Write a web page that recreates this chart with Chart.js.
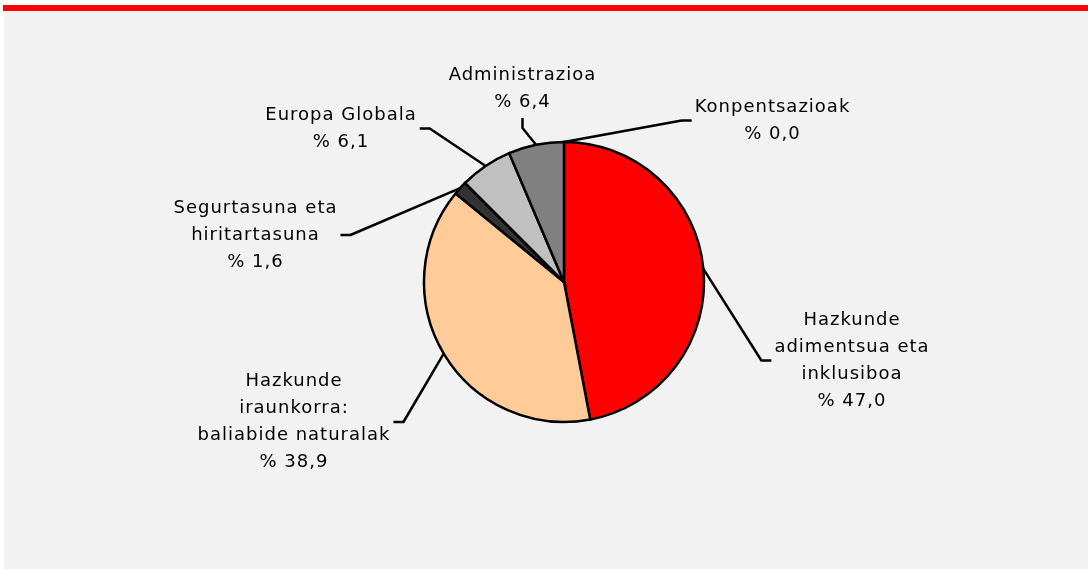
<!DOCTYPE html>
<html>
<head>
<meta charset="utf-8">
<script src="https://cdn.jsdelivr.net/npm/chart.js@4/dist/chart.umd.min.js"></script>
<style>
  body { margin: 0; width: 1088px; height: 569px; background: #ffffff; position: relative; overflow: hidden; }
  #panel { position: absolute; left: 4px; top: 11px; right: 0; bottom: 0; background: #f2f2f2; }
  #bar { position: absolute; left: 3px; top: 5px; right: 0; height: 6px; background: #ff0000; }
  #chart { position: absolute; left: 0; top: 0; }
</style>
</head>
<body>
<div id="panel"></div>
<div id="bar"></div>
<canvas id="chart" width="1088" height="569"></canvas>
<script>
// categories (one entry per slice, already broken into label lines)
var categories = [
	['Hazkunde', 'adimentsua eta', 'inklusiboa'],
	['Hazkunde', 'iraunkorra:', 'baliabide naturalak'],
	['Segurtasuna eta', 'hiritartasuna'],
	['Europa Globala'],
	['Administrazioa'],
	['Konpentsazioak']
];
// share of total, %
var values = [47.0, 38.9, 1.6, 6.1, 6.4, 0.0];
var sliceColors = ['#ff0000', '#ffcc99', '#333333', '#c0c0c0', '#808080', '#ffffff'];

// label block centre, relative to the pie centre, and which side the leader leaves from
var labelOffsets = [[288, 78.5], [-270, 140], [-308.5, -47], [-223, -153.5], [-41.5, -193.5], [208.5, -161.5]];
var labelSides = ['left', 'right', 'right', 'right', 'bottom', 'left'];

var FONT = '18px "DejaVu Sans", Verdana, sans-serif';
var LINE_H = 27;

function pctText(v) {
	return '% ' + v.toFixed(1).replace('.', ',');
}

var leaderPlugin = {
	id: 'leaders',
	afterDatasetsDraw: function(chart) {
		var ctx = chart.ctx;
		var meta = chart.getDatasetMeta(0);
		ctx.save();
		ctx.font = FONT;
		if ('letterSpacing' in ctx) ctx.letterSpacing = '1px';
		ctx.textAlign = 'center';
		ctx.textBaseline = 'middle';
		ctx.lineWidth = 2.5;
		ctx.lineJoin = 'round';
		ctx.strokeStyle = '#000000';
		ctx.fillStyle = '#000000';
		meta.data.forEach(function(arc, i) {
			var p = arc.getProps(['x', 'y', 'startAngle', 'endAngle', 'outerRadius'], true);
			var mid = (p.startAngle + p.endAngle) / 2;
			var ax = p.x + Math.cos(mid) * p.outerRadius;
			var ay = p.y + Math.sin(mid) * p.outerRadius;

			var lines = categories[i].concat([pctText(values[i])]);
			var w = Math.max.apply(null, lines.map(function(l) { return ctx.measureText(l).width; }));
			var h = lines.length * LINE_H;
			var cx = p.x + labelOffsets[i][0];
			var cy = p.y + labelOffsets[i][1];
			lines.forEach(function(l, k) {
				ctx.fillText(l, cx, cy - h / 2 + LINE_H * (k + 0.5));
			});

			var s, t;
			if (labelSides[i] === 'left') {
				s = [cx - w / 2 - 3, cy]; t = [s[0] - 10, cy];
			} else if (labelSides[i] === 'right') {
				s = [cx + w / 2 + 3, cy]; t = [s[0] + 10, cy];
			} else {
				s = [cx, cy + h / 2 + 2.5]; t = [cx, s[1] + 10];
			}
			ctx.beginPath();
			ctx.moveTo(s[0], s[1]);
			ctx.lineTo(t[0], t[1]);
			ctx.lineTo(ax, ay);
			ctx.stroke();
		});
		ctx.restore();
	}
};

var chartCanvas = document.getElementById('chart');
var chartObj = new Chart(chartCanvas, {
	type: 'pie',
	data: {
		labels: categories.map(function(c) { return c.join(' '); }),
		datasets: [{
			data: values,
			backgroundColor: sliceColors,
			borderColor: '#000000',
			borderWidth: 2.5,
			borderJoinStyle: 'miter'
		}]
	},
	options: {
		responsive: false,
		animation: false,
		events: [],
		radius: 140,
		layout: { padding: { left: 40, bottom: 5 } },
		plugins: {
			legend: { display: false },
			tooltip: { enabled: false }
		}
	},
	plugins: [leaderPlugin]
});
</script>
</body>
</html>
